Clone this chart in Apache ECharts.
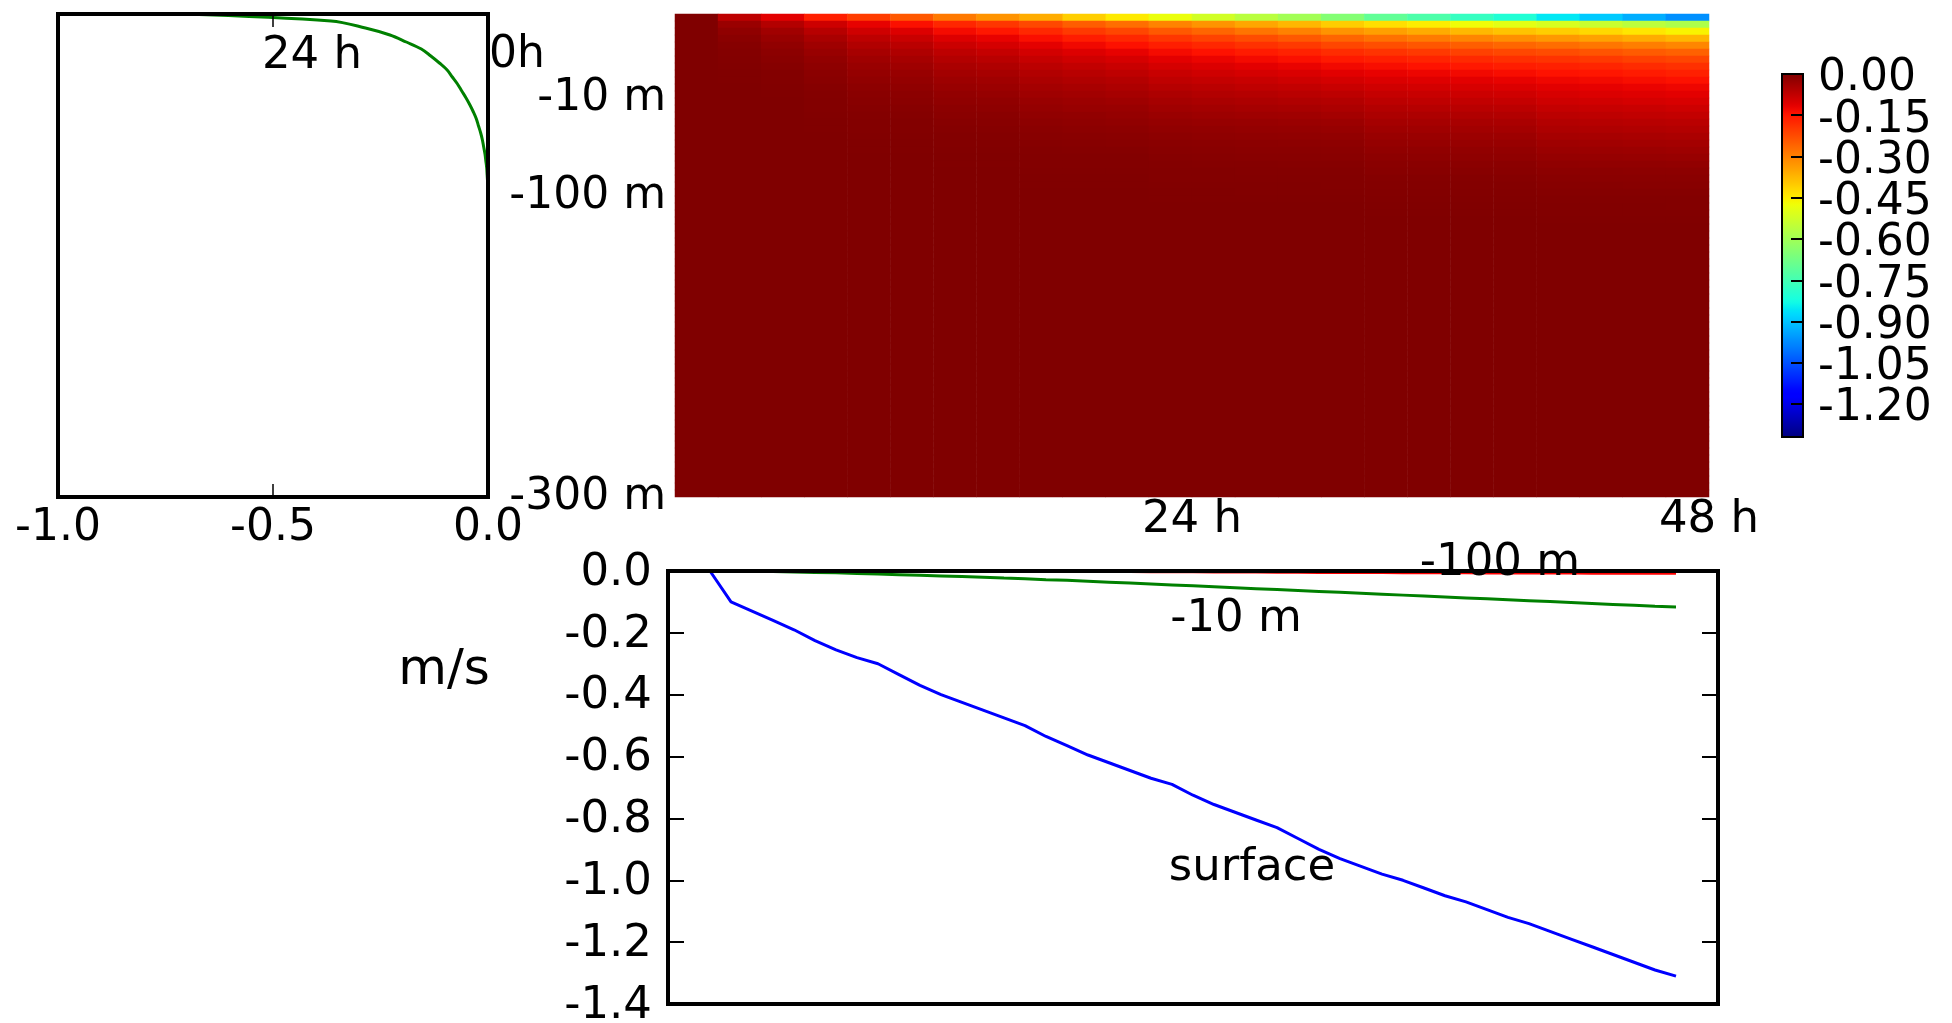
<!DOCTYPE html>
<html><head><meta charset="utf-8">
<script src="https://cdn.jsdelivr.net/npm/echarts@6/dist/echarts.min.js"></script>
<style>html,body{margin:0;padding:0;background:#fff}#c{width:1952px;height:1023px}</style>
</head><body><div id="c"></div>
<script>
// ---- heatmap: time bins (hour at bin centre), model levels (0 = surface)
const heatTimes = [1,3,5,7,9,11,13,15,17,19,21,23,25,27,29,31,33,35,37,39,41,43,45,47];
const levelCount = 69;
const depthTickLevels = [11, 25, 68];
const depthTickLabels = ['-10 m', '-100 m', '-300 m'];
// one column per time bin, values from the surface level downwards (m/s)
const heatCols = [
[0,0,0,0,0,0,0,0,0,0, 0,0,0,0,0,0,0,0,0,0, 0,0,0,0,0,0,0,0,0,0, 0,0,0,0,0,0,0,0,0,0, 0,0,0,0,0,0,0,0,0,0, 0,0,0,0,0,0,0,0,0,0, 0,0,0,0,0,0,0,0,0],
[-0.07,-0.03,-0.018,-0.011,-0.007,-0.005,-0.003,-0.002,-0.001,-0.001, 0,0,0,0,0,0,0,0,0,0, 0,0,0,0,0,0,0,0,0,0, 0,0,0,0,0,0,0,0,0,0, 0,0,0,0,0,0,0,0,0,0, 0,0,0,0,0,0,0,0,0,0, 0,0,0,0,0,0,0,0,0],
[-0.112,-0.058,-0.038,-0.027,-0.019,-0.014,-0.01,-0.007,-0.004,-0.003, -0.002,-0.001, 0,0,0,0,0,0,0,0,0,0, 0,0,0,0,0,0,0,0,0,0, 0,0,0,0,0,0,0,0,0,0, 0,0,0,0,0,0,0,0,0,0, 0,0,0,0,0,0,0,0,0,0, 0,0,0,0,0,0,0],
[-0.16,-0.088,-0.063,-0.047,-0.036,-0.027,-0.021,-0.016,-0.013,-0.01, -0.007,-0.005,-0.004,-0.003,-0.002,-0.001,-0.001, 0,0,0,0,0,0,0,0,0,0, 0,0,0,0,0,0,0,0,0,0, 0,0,0,0,0,0,0,0,0,0, 0,0,0,0,0,0,0,0,0,0, 0,0,0,0,0,0,0,0,0,0, 0,0],
[-0.202,-0.118,-0.09,-0.07,-0.056,-0.045,-0.036,-0.029,-0.024,-0.019, -0.015,-0.012,-0.009,-0.007,-0.005,-0.004,-0.003,-0.002,-0.001,-0.001, 0,0,0,0,0,0,0,0,0,0, 0,0,0,0,0,0,0,0,0,0, 0,0,0,0,0,0,0,0,0,0, 0,0,0,0,0,0,0,0,0,0, 0,0,0,0,0,0,0,0,0],
[-0.241,-0.141,-0.107,-0.084,-0.067,-0.054,-0.044,-0.035,-0.028,-0.023, -0.018,-0.014,-0.011,-0.008,-0.006,-0.004,-0.003,-0.002,-0.001,-0.001, 0,0,0,0,0,0,0,0,0,0, 0,0,0,0,0,0,0,0,0,0, 0,0,0,0,0,0,0,0,0,0, 0,0,0,0,0,0,0,0,0,0, 0,0,0,0,0,0,0,0,0],
[-0.288,-0.172,-0.134,-0.106,-0.086,-0.07,-0.058,-0.048,-0.04,-0.033, -0.027,-0.022,-0.018,-0.014,-0.011,-0.008,-0.006,-0.004,-0.003,-0.002, -0.001,-0.001, 0,0,0,0,0,0,0,0,0,0, 0,0,0,0,0,0,0,0,0,0, 0,0,0,0,0,0,0,0,0,0, 0,0,0,0,0,0,0,0,0,0, 0,0,0,0,0,0,0],
[-0.324,-0.194,-0.151,-0.119,-0.097,-0.079,-0.065,-0.054,-0.045,-0.037, -0.031,-0.025,-0.02,-0.016,-0.012,-0.009,-0.007,-0.005,-0.004,-0.002, -0.001,-0.001, 0,0,0,0,0,0,0,0,0,0, 0,0,0,0,0,0,0,0,0,0, 0,0,0,0,0,0,0,0,0,0, 0,0,0,0,0,0,0,0,0,0, 0,0,0,0,0,0,0],
[-0.36,-0.22,-0.175,-0.14,-0.115,-0.095,-0.08,-0.068,-0.057,-0.049, -0.041,-0.035,-0.029,-0.024,-0.019,-0.015,-0.012,-0.009,-0.007,-0.005, -0.004,-0.003,-0.002,-0.001,-0.001, 0,0,0,0,0,0,0,0,0,0, 0,0,0,0,0,0,0,0,0,0, 0,0,0,0,0,0,0,0,0,0, 0,0,0,0,0,0,0,0,0,0, 0,0,0,0],
[-0.407,-0.249,-0.198,-0.158,-0.13,-0.107,-0.09,-0.076,-0.064,-0.055, -0.046,-0.039,-0.032,-0.027,-0.021,-0.017,-0.014,-0.01,-0.008,-0.006, -0.004,-0.003,-0.002,-0.001,-0.001, 0,0,0,0,0,0,0,0,0,0, 0,0,0,0,0,0,0,0,0,0, 0,0,0,0,0,0,0,0,0,0, 0,0,0,0,0,0,0,0,0,0, 0,0,0,0],
[-0.446,-0.273,-0.217,-0.174,-0.143,-0.118,-0.099,-0.084,-0.071,-0.06, -0.051,-0.043,-0.035,-0.029,-0.024,-0.019,-0.015,-0.011,-0.009,-0.006, -0.004,-0.003,-0.002,-0.001,-0.001, 0,0,0,0,0,0,0,0,0,0, 0,0,0,0,0,0,0,0,0,0, 0,0,0,0,0,0,0,0,0,0, 0,0,0,0,0,0,0,0,0,0, 0,0,0,0],
[-0.482,-0.302,-0.241,-0.194,-0.161,-0.134,-0.114,-0.097,-0.083,-0.072, -0.062,-0.052,-0.044,-0.037,-0.03,-0.024,-0.019,-0.015,-0.012,-0.009, -0.007,-0.005,-0.004,-0.003,-0.002,-0.001,-0.001, 0,0,0,0,0,0,0,0,0,0, 0,0,0,0,0,0,0,0,0,0, 0,0,0,0,0,0,0,0,0,0, 0,0,0,0,0,0,0,0,0,0, 0,0],
[-0.522,-0.326,-0.261,-0.21,-0.174,-0.145,-0.123,-0.105,-0.09,-0.078, -0.067,-0.057,-0.048,-0.04,-0.033,-0.026,-0.021,-0.017,-0.013,-0.01, -0.008,-0.006,-0.004,-0.003,-0.002,-0.001,-0.001, 0,0,0,0,0,0,0,0,0,0, 0,0,0,0,0,0,0,0,0,0, 0,0,0,0,0,0,0,0,0,0, 0,0,0,0,0,0,0,0,0,0, 0,0],
[-0.562,-0.351,-0.281,-0.226,-0.187,-0.156,-0.133,-0.113,-0.097,-0.083, -0.072,-0.061,-0.051,-0.043,-0.035,-0.028,-0.023,-0.018,-0.014,-0.011, -0.009,-0.006,-0.005,-0.003,-0.002,-0.002,-0.001, 0,0,0,0,0,0,0,0,0,0, 0,0,0,0,0,0,0,0,0,0, 0,0,0,0,0,0,0,0,0,0, 0,0,0,0,0,0,0,0,0,0, 0,0],
[-0.598,-0.374,-0.299,-0.241,-0.199,-0.166,-0.141,-0.12,-0.103,-0.089, -0.076,-0.065,-0.055,-0.046,-0.037,-0.03,-0.024,-0.019,-0.015,-0.012, -0.009,-0.007,-0.005,-0.003,-0.002,-0.002,-0.001, 0,0,0,0,0,0,0,0,0,0, 0,0,0,0,0,0,0,0,0,0, 0,0,0,0,0,0,0,0,0,0, 0,0,0,0,0,0,0,0,0,0, 0,0],
[-0.648,-0.405,-0.324,-0.261,-0.216,-0.18,-0.153,-0.131,-0.112,-0.096, -0.083,-0.07,-0.059,-0.05,-0.041,-0.032,-0.026,-0.021,-0.016,-0.013, -0.01,-0.007,-0.005,-0.004,-0.003,-0.002,-0.001, 0,0,0,0,0,0,0,0,0,0, 0,0,0,0,0,0,0,0,0,0, 0,0,0,0,0,0,0,0,0,0, 0,0,0,0,0,0,0,0,0,0, 0,0],
[-0.702,-0.43,-0.342,-0.277,-0.228,-0.19,-0.16,-0.138,-0.119,-0.104, -0.091,-0.079,-0.069,-0.059,-0.05,-0.042,-0.035,-0.029,-0.024,-0.019, -0.015,-0.011,-0.009,-0.006,-0.005,-0.003,-0.002,-0.001,-0.001, 0,0,0,0,0,0,0,0,0,0, 0,0,0,0,0,0,0,0,0,0, 0,0,0,0,0,0,0,0,0,0, 0,0,0,0,0,0,0,0,0,0],
[-0.735,-0.45,-0.358,-0.29,-0.239,-0.199,-0.168,-0.145,-0.125,-0.109, -0.095,-0.083,-0.072,-0.062,-0.052,-0.044,-0.037,-0.03,-0.025,-0.02, -0.016,-0.012,-0.009,-0.006,-0.005,-0.003,-0.002,-0.001,-0.001, 0,0,0,0,0,0,0,0,0,0, 0,0,0,0,0,0,0,0,0,0, 0,0,0,0,0,0,0,0,0,0, 0,0,0,0,0,0,0,0,0,0],
[-0.772,-0.473,-0.376,-0.305,-0.251,-0.209,-0.176,-0.152,-0.131,-0.114, -0.1,-0.087,-0.076,-0.065,-0.055,-0.046,-0.039,-0.032,-0.026,-0.021, -0.017,-0.013,-0.009,-0.006,-0.005,-0.003,-0.002,-0.001,-0.001, 0,0,0,0,0,0,0,0,0,0, 0,0,0,0,0,0,0,0,0,0, 0,0,0,0,0,0,0,0,0,0, 0,0,0,0,0,0,0,0,0,0],
[-0.805,-0.493,-0.392,-0.318,-0.262,-0.218,-0.184,-0.159,-0.137,-0.119, -0.104,-0.091,-0.079,-0.068,-0.057,-0.048,-0.041,-0.033,-0.027,-0.022, -0.018,-0.013,-0.01,-0.007,-0.005,-0.003,-0.002,-0.001,-0.001, 0,0,0,0,0,0,0,0,0,0, 0,0,0,0,0,0,0,0,0,0, 0,0,0,0,0,0,0,0,0,0, 0,0,0,0,0,0,0,0,0,0],
[-0.855,-0.513,-0.405,-0.331,-0.271,-0.226,-0.19,-0.164,-0.144,-0.127, -0.112,-0.1,-0.089,-0.078,-0.068,-0.059,-0.051,-0.043,-0.036,-0.03, -0.024,-0.018,-0.014,-0.01,-0.008,-0.006,-0.003,-0.002,-0.002,-0.001, 0,0,0,0,0,0,0,0,0,0, 0,0,0,0,0,0,0,0,0,0, 0,0,0,0,0,0,0,0,0,0, 0,0,0,0,0,0,0,0,0],
[-0.893,-0.536,-0.422,-0.345,-0.283,-0.236,-0.199,-0.171,-0.15,-0.132, -0.117,-0.105,-0.093,-0.081,-0.071,-0.062,-0.054,-0.045,-0.038,-0.031, -0.025,-0.019,-0.014,-0.011,-0.008,-0.006,-0.004,-0.002,-0.002,-0.001, 0,0,0,0,0,0,0,0,0,0, 0,0,0,0,0,0,0,0,0,0, 0,0,0,0,0,0,0,0,0,0, 0,0,0,0,0,0,0,0,0],
[-0.93,-0.558,-0.44,-0.36,-0.295,-0.246,-0.207,-0.179,-0.156,-0.138, -0.122,-0.109,-0.097,-0.084,-0.074,-0.064,-0.056,-0.047,-0.04,-0.032, -0.026,-0.02,-0.015,-0.011,-0.009,-0.006,-0.004,-0.002,-0.002,-0.001, 0,0,0,0,0,0,0,0,0,0, 0,0,0,0,0,0,0,0,0,0, 0,0,0,0,0,0,0,0,0,0, 0,0,0,0,0,0,0,0,0],
[-0.968,-0.581,-0.458,-0.374,-0.307,-0.255,-0.215,-0.186,-0.163,-0.143, -0.126,-0.114,-0.101,-0.088,-0.077,-0.067,-0.058,-0.049,-0.041,-0.034, -0.027,-0.021,-0.015,-0.012,-0.009,-0.006,-0.004,-0.003,-0.002,-0.001, 0,0,0,0,0,0,0,0,0,0, 0,0,0,0,0,0,0,0,0,0, 0,0,0,0,0,0,0,0,0,0, 0,0,0,0,0,0,0,0,0]
];
// ---- colourbar ticks
const colorbarTicks = [0, -0.15, -0.3, -0.45, -0.6, -0.75, -0.9, -1.05, -1.2];
const colorMin = -1.32, colorMax = 0;
// ---- left panel: velocity profiles at level boundaries 0..69
const profile0h = [0,0,0,0,0,0,0,0,0,0, 0,0,0,0,0,0,0,0,0,0, 0,0,0,0,0,0,0,0,0,0, 0,0,0,0,0,0,0,0,0,0, 0,0,0,0,0,0,0,0,0,0, 0,0,0,0,0,0,0,0,0,0, 0,0,0,0,0,0,0,0,0,0];
const profile24h = [-0.709,-0.365,-0.285,-0.228,-0.19,-0.155,-0.133,-0.113,-0.095,-0.083, -0.071,-0.061,-0.051,-0.042,-0.034,-0.027,-0.022,-0.017,-0.013,-0.01, -0.007,-0.005,-0.003,-0.002,-0.001, 0,0,0,0,0, 0,0,0,0,0,0,0,0,0,0, 0,0,0,0,0,0,0,0,0,0, 0,0,0,0,0,0,0,0,0,0, 0,0,0,0,0,0,0,0,0,0];
// ---- bottom panel: hourly time series (m/s)
const timeHours = [0,1,2,3,4,5,6,7,8,9,10,11,12,13,14,15,16,17,18,19,20,21,22,23,24,25,26,27,28,29,30,31,32,33,34,35,36,37,38,39,40,41,42,43,44,45,46,47,48];
const surfaceSpeed = [0,0,0,-0.10,-0.13,-0.16,-0.19,-0.225,-0.255,-0.28, -0.30,-0.335,-0.37,-0.40,-0.425,-0.45,-0.475,-0.50,-0.535,-0.565, -0.595,-0.62,-0.645,-0.67,-0.69,-0.725,-0.755,-0.78,-0.805,-0.83, -0.865,-0.90,-0.93,-0.955,-0.98,-1.00,-1.025,-1.05,-1.07,-1.095, -1.12,-1.14,-1.165,-1.19,-1.215,-1.24,-1.265,-1.29,-1.31];
const speed10m = [0,0,0,-0.0005,-0.001,-0.002,-0.003,-0.005,-0.006,-0.008, -0.010,-0.012,-0.014,-0.016,-0.018,-0.020,-0.023,-0.025,-0.028,-0.030, -0.033,-0.036,-0.039,-0.042,-0.045,-0.048,-0.051,-0.054,-0.057,-0.060, -0.063,-0.066,-0.069,-0.072,-0.075,-0.078,-0.081,-0.084,-0.087,-0.090, -0.093,-0.096,-0.099,-0.102,-0.105,-0.108,-0.111,-0.114,-0.116];
const speed100m = [0,0,0,0,0,0,0,0,0,0, 0,0,0,0,0,-0.0001,-0.0003,-0.0005,-0.0008,-0.001, -0.0013,-0.0015,-0.0018,-0.0021,-0.0024,-0.0027,-0.003,-0.0033,-0.0036,-0.0039, -0.0042,-0.0045,-0.0047,-0.005,-0.0052,-0.0054,-0.0056,-0.0058,-0.006,-0.0062, -0.0063,-0.0065,-0.0066,-0.0068,-0.0069,-0.0071,-0.0072,-0.0074,-0.0075];

// ---------------------------------------------------------------
const FONT = 'DejaVu Sans';
function jet(n){
  const r = n<0.35?0 : n<0.66?(n-0.35)/0.31 : n<0.89?1 : 1-(n-0.89)/0.11*0.5;
  const g = n<0.125?0 : n<0.375?(n-0.125)/0.25 : n<0.64?1 : n<0.91?1-(n-0.64)/0.27 : 0;
  const b = n<0.11?0.5+n/0.11*0.5 : n<0.34?1 : n<0.65?1-(n-0.34)/0.31 : 0;
  const c = x => Math.round(Math.max(0,Math.min(1,x))*255);
  return 'rgb(' + c(r) + ',' + c(g) + ',' + c(b) + ')';
}
const jetColors = [];
for (let i = 0; i <= 128; i++) jetColors.push(jet(i/128));

const levels = Array.from({length: levelCount}, (_, i) => i);
const heatData = [];
heatCols.forEach((col, ci) => col.forEach((v, li) => heatData.push([ci, li, v])));
// colourbar labels split over two label axes so that neighbouring labels never get auto-hidden
const cbTicksEven = colorbarTicks.filter((_, i) => i % 2 === 0);
const cbTicksOdd = colorbarTicks.filter((_, i) => i % 2 === 1);

const black = '#000';
const noLine = {show: false, onZero: false};
const chart = echarts.init(document.getElementById('c'));
function txt(x, y, s, fs){
  return {type: 'text', x: x, y: y, z: 10, style: {text: s, font: fs + 'px "DejaVu Sans"', fill: black, align: 'center', verticalAlign: 'middle'}};
}
function cbLabelAxis(vals){
  return {gridIndex: 2, type: 'value', min: colorMin, max: colorMax, position: 'right', z: 6,
    axisLine: noLine, splitLine: {show: false}, axisTick: {show: false},
    axisLabel: {customValues: vals, showMinLabel: true, showMaxLabel: true, hideOverlap: false, fontSize: 44, color: black, margin: 15,
      fontFamily: FONT, verticalAlign: 'top', lineHeight: 10, formatter: v => v.toFixed(2)}};
}
chart.setOption({
  animation: false,
  backgroundColor: '#fff',
  textStyle: {fontFamily: FONT, color: black},
  grid: [
    {left: 58, top: 14, width: 430, height: 483, show: true, borderColor: black, borderWidth: 4, backgroundColor: 'transparent', z: 5, containLabel: false, outerBoundsMode: 'none'},
    {left: 675, top: 14, width: 1034, height: 483, containLabel: false, outerBoundsMode: 'none'},
    {left: 1782, top: 74, width: 21, height: 363, show: true, borderColor: black, borderWidth: 2, backgroundColor: 'transparent', z: 5, containLabel: false, outerBoundsMode: 'none'},
    {left: 668, top: 571, width: 1050, height: 433, show: true, borderColor: black, borderWidth: 4, backgroundColor: 'transparent', z: 5, containLabel: false, outerBoundsMode: 'none'}
  ],
  xAxis: [
    {gridIndex: 0, type: 'value', min: -1, max: 0, interval: 0.5, position: 'bottom', z: 6,
     axisLine: noLine, splitLine: {show: false},
     axisTick: {inside: true, length: 13, lineStyle: {color: black, width: 1.5}},
     axisLabel: {fontSize: 44, color: black, margin: 10, fontFamily: FONT, hideOverlap: false, formatter: v => v.toFixed(1)}},
    {gridIndex: 0, type: 'value', min: -1, max: 0, interval: 0.5, position: 'top', z: 6,
     axisLine: noLine, splitLine: {show: false}, axisLabel: {show: false},
     axisTick: {inside: true, length: 13, lineStyle: {color: black, width: 1.5}}},
    {gridIndex: 1, type: 'category', data: heatTimes, show: false},
    {gridIndex: 1, type: 'value', min: 0, max: 48, interval: 24, position: 'bottom',
     axisLine: noLine, axisTick: {show: false}, splitLine: {show: false},
     axisLabel: {fontSize: 45, color: black, margin: 1, fontFamily: FONT, hideOverlap: false, formatter: v => v === 0 ? '' : v + ' h'}},
    {gridIndex: 2, type: 'value', min: 0, max: 1, show: false, axisLine: noLine},
    {gridIndex: 3, type: 'value', min: 0, max: 50, show: false, axisLine: noLine}
  ],
  yAxis: [
    {gridIndex: 0, type: 'value', min: 0, max: 69, inverse: true, show: false, axisLine: noLine},
    {gridIndex: 1, type: 'category', data: levels, inverse: true,
     axisLine: noLine, axisTick: {show: false}, splitLine: {show: false},
     axisLabel: {fontSize: 44, color: black, margin: 9, fontFamily: FONT, verticalAlign: 'top', lineHeight: 8, hideOverlap: false,
       interval: (i) => depthTickLevels.indexOf(i) >= 0,
       formatter: (v, i) => { const k = depthTickLevels.indexOf(i); return k >= 0 ? depthTickLabels[k] : ''; }}},
    {gridIndex: 2, type: 'value', min: colorMin, max: colorMax, position: 'right', z: 7,
     axisLine: noLine, splitLine: {show: false}, axisLabel: {show: false},
     axisTick: {customValues: colorbarTicks, inside: true, length: 12, lineStyle: {color: black, width: 2}}},
    {gridIndex: 3, type: 'value', min: -1.4, max: 0, interval: 0.2, position: 'left', z: 6,
     axisLine: noLine, splitLine: {show: false},
     axisTick: {inside: true, length: 16, lineStyle: {color: black, width: 2}},
     axisLabel: {fontSize: 45, color: black, margin: 16, fontFamily: FONT, hideOverlap: false, verticalAlign: 'top', lineHeight: 4, formatter: v => v.toFixed(1)}},
    {gridIndex: 3, type: 'value', min: -1.4, max: 0, interval: 0.2, position: 'right', z: 6,
     axisLine: noLine, splitLine: {show: false}, axisLabel: {show: false},
     axisTick: {inside: true, length: 16, lineStyle: {color: black, width: 2}}},
    cbLabelAxis(cbTicksEven),
    cbLabelAxis(cbTicksOdd)
  ],
  visualMap: {
    type: 'continuous', min: colorMin, max: colorMax, seriesIndex: 0, dimension: 2,
    inRange: {color: jetColors}, calculable: false, hoverLink: false,
    left: 1782, top: 74, itemWidth: 21, itemHeight: 363, padding: 0, z: 1
  },
  series: [
    {type: 'heatmap', xAxisIndex: 2, yAxisIndex: 1, data: heatData, progressive: 0,
     itemStyle: {borderWidth: 0}, emphasis: {disabled: true}},
    {type: 'line', xAxisIndex: 0, yAxisIndex: 0, data: profile0h.map((v, i) => [v, i]),
     showSymbol: false, lineStyle: {color: '#0000ff', width: 2.5}, itemStyle: {color: '#0000ff'}, z: 2},
    {type: 'line', xAxisIndex: 0, yAxisIndex: 0, data: profile24h.map((v, i) => [v, i]),
     showSymbol: false, smooth: 0.35, lineStyle: {color: '#008000', width: 3}, itemStyle: {color: '#008000'}, z: 3},
    {type: 'line', xAxisIndex: 5, yAxisIndex: 3, data: timeHours.map((t, i) => [t, speed100m[i]]),
     showSymbol: false, lineStyle: {color: '#ff0000', width: 3}, itemStyle: {color: '#ff0000'}, z: 2},
    {type: 'line', xAxisIndex: 5, yAxisIndex: 3, data: timeHours.map((t, i) => [t, speed10m[i]]),
     showSymbol: false, lineStyle: {color: '#008000', width: 3}, itemStyle: {color: '#008000'}, z: 2},
    {type: 'line', xAxisIndex: 5, yAxisIndex: 3, data: timeHours.map((t, i) => [t, surfaceSpeed[i]]),
     showSymbol: false, lineStyle: {color: '#0000ff', width: 3}, itemStyle: {color: '#0000ff'}, z: 2}
  ],
  graphic: [
    txt(312, 56, '24 h', 45),
    txt(517, 56, '0h', 44),
    txt(444, 671, 'm/s', 50),
    txt(1500, 563, '-100 m', 45),
    txt(1236, 619, '-10 m', 45),
    txt(1252, 868, 'surface', 45)
  ]
});
const bad = heatCols.map((c, i) => c.length === levelCount ? null : i + ':' + c.length).filter(Boolean);
if (bad.length || profile24h.length !== 70 || profile0h.length !== 70) {
  setTimeout(() => { throw new Error('length mismatch ' + bad.join(',') + ' p24=' + profile24h.length + ' p0=' + profile0h.length); }, 0);
}
</script>
</body></html>
